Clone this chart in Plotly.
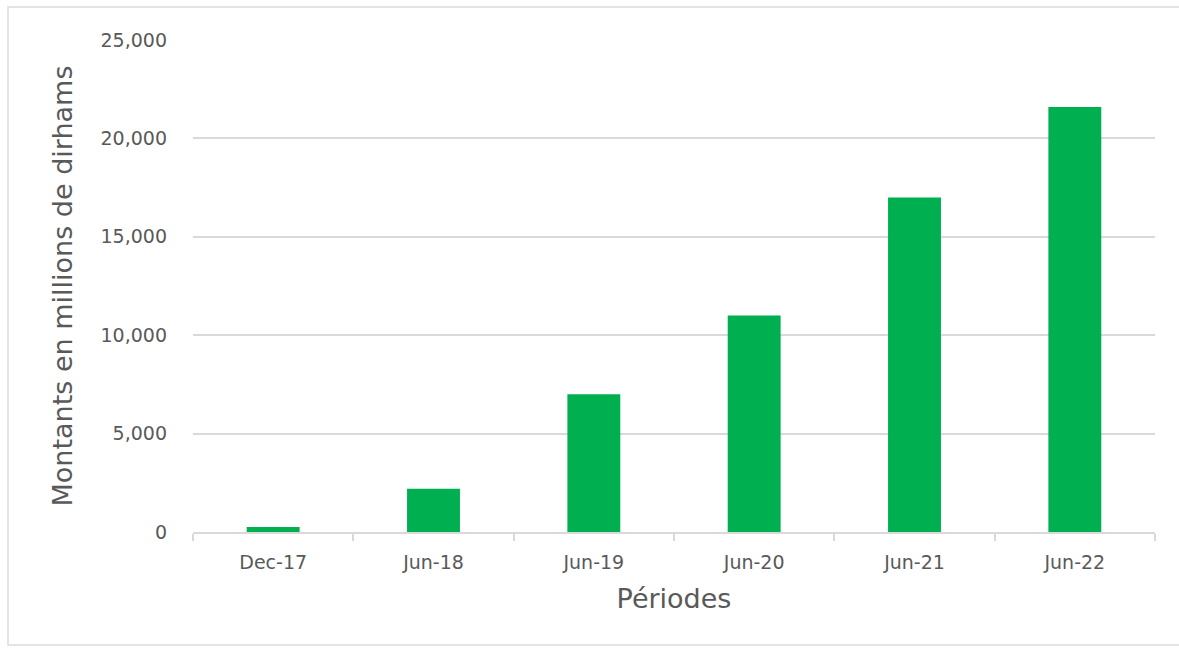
import plotly.graph_objects as go

# Outstanding amounts per reporting period (millions of dirhams)
periods = ["Dec-17", "Jun-18", "Jun-19", "Jun-20", "Jun-21", "Jun-22"]
amounts = [250, 2200, 7000, 11000, 17000, 21600]

y_ticks = [0, 5000, 10000, 15000, 20000, 25000]
y_tick_text = ["0", "5,000", "10,000", "15,000", "20,000", "25,000"]

FONT = "DejaVu Sans"
TEXT_GREY = "#595959"
GRID_GREY = "#d9d9d9"

fig = go.Figure(
    go.Bar(
        x=periods,
        y=amounts,
        marker=dict(color="#00b050", line=dict(width=0)),
        hoverinfo="x+y",
    )
)

fig.update_layout(
    width=1179,
    height=653,
    margin=dict(l=193, r=24, t=40, b=121),
    paper_bgcolor="white",
    plot_bgcolor="white",
    bargap=0.67,
    showlegend=False,
    font=dict(family=FONT, color=TEXT_GREY),
    shapes=[
        dict(
            type="rect", xref="paper", yref="paper",
            x0=-185 / 962, x1=1.06, y0=-113 / 492, y1=1 + 33 / 492,
            line=dict(color="#dcdcdc", width=1.5),
            fillcolor="rgba(0,0,0,0)", layer="below",
        )
    ],
)

fig.update_xaxes(
    type="category",
    showgrid=False,
    showline=True,
    linecolor=GRID_GREY,
    linewidth=1.5,
    ticks="outside",
    tickson="boundaries",
    ticklen=7,
    tickcolor=GRID_GREY,
    tickwidth=1.5,
    ticklabelstandoff=12,
    tickfont=dict(size=19, color=TEXT_GREY),
    title=dict(text="Périodes", font=dict(size=27, color=TEXT_GREY), standoff=18),
)

fig.update_yaxes(
    range=[0, 25000],
    tickvals=y_ticks,
    ticktext=y_tick_text,
    showgrid=True,
    gridcolor=GRID_GREY,
    gridwidth=1.5,
    zeroline=False,
    showline=False,
    ticks="",
    ticklabelstandoff=25,
    tickfont=dict(size=19, color=TEXT_GREY),
    title=dict(text="Montants en millions de dirhams", font=dict(size=27, color=TEXT_GREY), standoff=20),
)

fig.write_html("out.html")
